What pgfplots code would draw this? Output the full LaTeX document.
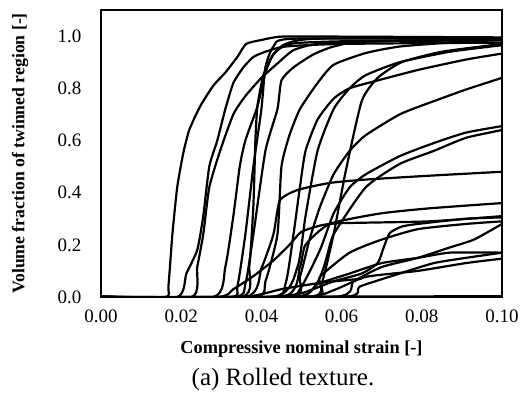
\documentclass[border=0pt]{standalone}
\usepackage{pgfplots}
\pgfplotsset{compat=1.18}
\usepackage{fontspec}
\setmainfont{Liberation Serif}

\begin{document}
\begin{tikzpicture}
\useasboundingbox (-101pt,-107pt) rectangle (424pt,297pt);
\begin{axis}[
  at={(0,0)}, anchor=south west,
  scale only axis,
  width=401pt, height=287pt,
  xmin=0, xmax=0.1, ymin=0, ymax=1.1,
  xtick={0,0.02,0.04,0.06,0.08,0.1},
  ytick={0,0.2,0.4,0.6,0.8,1.0},
  major tick length=0pt,
  /pgf/number format/assume math mode=true,
  xticklabel style={font=\fontsize{19}{22}\selectfont, yshift=-9pt,
    /pgf/number format/fixed, /pgf/number format/fixed zerofill,
    /pgf/number format/precision=2},
  yticklabel style={font=\fontsize{19}{22}\selectfont, xshift=-16pt,
    /pgf/number format/fixed, /pgf/number format/fixed zerofill,
    /pgf/number format/precision=1},
  axis line style={line width=1.3pt},
  xlabel={\textbf{Compressive nominal strain [-]}},
  ylabel={\textbf{Volume fraction of twinned region [-]}},
  xlabel style={font=\fontsize{18.3}{21}\selectfont, at={(0.5,0)}, anchor=center, yshift=-52pt},
  ylabel style={font=\fontsize{17.7}{21}\selectfont, at={(0,0.5)}, anchor=center, yshift=81pt},
  cycle list={{black}},
  every axis plot post/.append style={black, solid, line width=2.2pt, line join=round, mark=none, smooth, tension=0.35},
  clip=true,
]
% A
\addplot coordinates {(0.000,0)(0.016,0)(0.0168,0.04)(0.0178,0.24)(0.019,0.42)(0.0205,0.55)(0.022,0.64)(0.0247,0.73)(0.028,0.81)(0.031,0.86)(0.034,0.92)(0.0362,0.97)(0.040,0.985)(0.045,0.998)(0.06,0.998)(0.1,0.995)};
% B
\addplot coordinates {(0,0)(0.019,0)(0.0213,0.09)(0.024,0.18)(0.0255,0.31)(0.027,0.5)(0.029,0.6)(0.031,0.72)(0.033,0.82)(0.0355,0.88)(0.038,0.92)(0.041,0.94)(0.046,0.96)(0.06,0.97)(0.1,0.975)};
% C
\addplot coordinates {(0,0)(0.0226,0)(0.024,0.115)(0.0255,0.24)(0.027,0.42)(0.0297,0.56)(0.033,0.70)(0.036,0.77)(0.040,0.84)(0.044,0.895)(0.048,0.946)(0.054,0.97)(0.07,0.98)(0.1,0.985)};
% D
\addplot coordinates {(0,0)(0.028,0)(0.031,0.115)(0.033,0.31)(0.0346,0.5)(0.036,0.6)(0.039,0.73)(0.041,0.86)(0.043,0.93)(0.046,0.97)(0.054,0.99)(0.1,0.99)};
% E
\addplot coordinates {(0,0)(0.032,0)(0.034,0.04)(0.036,0.24)(0.038,0.5)(0.040,0.72)(0.041,0.88)(0.043,0.96)(0.048,0.99)(0.1,0.99)};
% F
\addplot coordinates {(0,0)(0.035,0)(0.037,0.12)(0.038,0.35)(0.0385,0.6)(0.039,0.73)(0.0405,0.85)(0.043,0.93)(0.047,0.97)(0.06,0.98)(0.1,0.985)};
% G
\addplot coordinates {(0,0)(0.033,0)(0.036,0.05)(0.038,0.24)(0.041,0.56)(0.044,0.72)(0.045,0.83)(0.048,0.88)(0.053,0.93)(0.058,0.96)(0.066,0.98)(0.1,0.985)};
% H
\addplot coordinates {(0,0)(0.038,0)(0.041,0.06)(0.044,0.24)(0.045,0.5)(0.047,0.62)(0.0496,0.72)(0.054,0.82)(0.058,0.89)(0.066,0.935)(0.0745,0.96)(0.087,0.975)(0.1,0.985)};
% I
\addplot coordinates {(0,0)(0.036,0)(0.040,0.11)(0.043,0.24)(0.0446,0.37)(0.049,0.41)(0.057,0.437)(0.066,0.45)(0.082,0.465)(0.1,0.48)};
% J
\addplot coordinates {(0,0)(0.042,0)(0.046,0.05)(0.048,0.24)(0.0496,0.42)(0.051,0.56)(0.054,0.68)(0.058,0.76)(0.062,0.8)(0.069,0.83)(0.079,0.87)(0.091,0.91)(0.1,0.933)};
% K
\addplot coordinates {(0,0)(0.043,0)(0.049,0.115)(0.051,0.31)(0.054,0.56)(0.058,0.72)(0.062,0.8)(0.066,0.85)(0.0745,0.9)(0.087,0.94)(0.1,0.965)};
% L
\addplot coordinates {(0,0)(0.052,0)(0.055,0.05)(0.058,0.24)(0.061,0.48)(0.065,0.75)(0.069,0.84)(0.075,0.9)(0.085,0.94)(0.1,0.97)};
% M
\addplot coordinates {(0,0)(0.045,0)(0.0496,0.03)(0.0546,0.18)(0.058,0.32)(0.062,0.42)(0.066,0.47)(0.0745,0.54)(0.083,0.59)(0.091,0.63)(0.1,0.655)};
% N
\addplot coordinates {(0,0)(0.047,0)(0.0496,0.077)(0.052,0.22)(0.0546,0.345)(0.058,0.47)(0.062,0.56)(0.066,0.62)(0.0745,0.7)(0.082,0.745)(0.091,0.795)(0.1,0.84)};
% O
\addplot coordinates {(0,0)(0.05,0)(0.058,0.24)(0.066,0.42)(0.0745,0.51)(0.083,0.56)(0.091,0.61)(0.1,0.64)};
% P
\addplot coordinates {(0,0)(0.045,0)(0.0496,0.115)(0.051,0.2)(0.057,0.28)(0.0696,0.32)(0.082,0.34)(0.1,0.36)};
% Q
\addplot coordinates {(0,0)(0.029,0)(0.033,0.03)(0.038,0.08)(0.043,0.14)(0.047,0.2)(0.05,0.25)(0.055,0.275)(0.06,0.283)(0.082,0.29)(0.1,0.31)};
% R
\addplot coordinates {(0,0)(0.052,0)(0.0546,0.077)(0.062,0.17)(0.070,0.22)(0.079,0.26)(0.091,0.28)(0.1,0.29)};
% S
\addplot coordinates {(0,0)(0.040,0)(0.0496,0.013)(0.058,0.06)(0.065,0.09)(0.069,0.13)(0.0705,0.19)(0.072,0.245)(0.075,0.27)(0.079,0.28)(0.091,0.30)(0.1,0.305)};
% T
\addplot coordinates {(0,0)(0.048,0)(0.054,0.05)(0.062,0.09)(0.070,0.13)(0.079,0.15)(0.087,0.17)(0.1,0.17)};
% U
\addplot coordinates {(0,0)(0.058,0)(0.063,0.06)(0.070,0.115)(0.079,0.15)(0.087,0.19)(0.093,0.22)(0.1,0.28)};
% V
\addplot coordinates {(0,0)(0.050,0)(0.058,0.026)(0.066,0.077)(0.079,0.1)(0.091,0.13)(0.1,0.147)};
% W
\addplot coordinates {(0,0)(0.060,0)(0.0645,0.04)(0.0745,0.09)(0.083,0.13)(0.091,0.15)(0.1,0.17)};
% Y
\addplot coordinates {(0,0)(0.035,0)(0.045,0.03)(0.055,0.055)(0.065,0.07)};
% X
\addplot coordinates {(0,0)(0.1,0.003)};
\end{axis}
\node[font=\fontsize{25}{28}\selectfont] at (182pt,-82pt) {(a) Rolled texture.};
\end{tikzpicture}
\end{document}
